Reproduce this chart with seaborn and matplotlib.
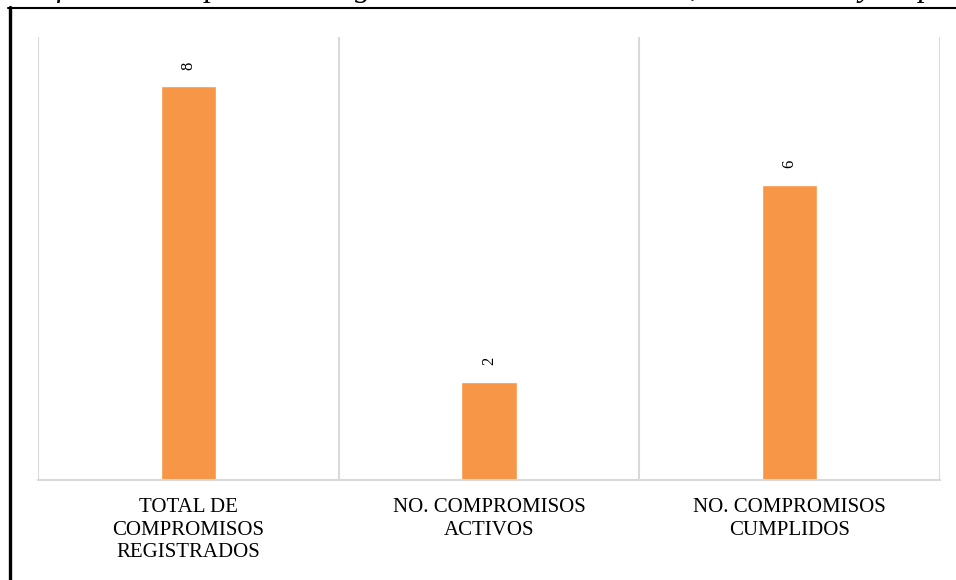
import numpy as np
import pandas as pd
import seaborn as sns
import matplotlib.pyplot as plt
from matplotlib.lines import Line2D

# Data
categories = ["TOTAL DE\nCOMPROMISOS\nREGISTRADOS",
              "NO. COMPROMISOS\nACTIVOS",
              "NO. COMPROMISOS\nCUMPLIDOS"]
values = [8, 2, 6]
title = "Gráfica 4. Compromisos registrados - Sector Cultura, Recreación y Deporte"

df = pd.DataFrame({"categoria": categories, "valor": values})

sns.set_style("white")
plt.rcParams['font.family'] = ['Liberation Serif', 'DejaVu Serif']

fig = plt.figure(figsize=(9.56, 5.8), dpi=100)
ax = fig.add_axes([38/956, 100/580, 902/956, 443/580])

sns.barplot(data=df, x="categoria", y="valor", color="#F79646",
            saturation=1, width=0.183, ax=ax)

# value labels, rotated
for i, v in enumerate(values):
    ax.annotate(str(v), (i, v), xytext=(0, 12), textcoords="offset points",
                ha="center", va="bottom", rotation=90, fontsize=12,
                color="#000000")

# category separators
grid_c = "#d9d9d9"
for xs in np.arange(-0.5, len(categories), 1.0):
    ax.axvline(xs, color=grid_c, lw=1.5, zorder=0)

ax.set_xlim(-0.5, len(categories) - 0.5)
ax.set_ylim(0, 9)
ax.set_xlabel("")
ax.set_ylabel("")
ax.set_yticks([])
for s in ["top", "left", "right"]:
    ax.spines[s].set_visible(False)
ax.spines["bottom"].set_color(grid_c)
ax.spines["bottom"].set_linewidth(1.5)
ax.tick_params(axis="x", length=0, pad=13)
for lbl in ax.get_xticklabels():
    lbl.set_fontsize(15)
    lbl.set_linespacing(1.25)
    lbl.set_color("#000000")

# caption above the frame, mostly cut off in the reference
fig.text(5/956, 1 + 4/580, title, ha="left", va="baseline",
         fontsize=23, style="italic", color="#000000")

# frame lines
fig.add_artist(Line2D([8/956, 1], [1 - 7.5/580, 1 - 7.5/580],
                      transform=fig.transFigure, color="black", lw=1.5))
fig.add_artist(Line2D([9.5/956, 9.5/956], [0, 1 - 7/580],
                      transform=fig.transFigure, color="black", lw=2.4))

fig.savefig("out.png", dpi=100)
